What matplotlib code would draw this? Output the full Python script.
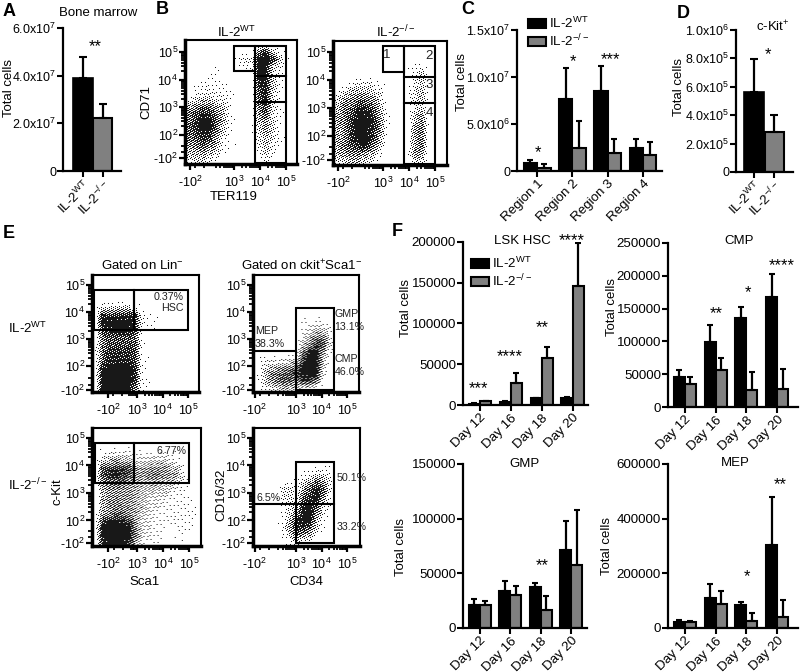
import numpy as np
import matplotlib
matplotlib.use('Agg')
import matplotlib.pyplot as plt
from matplotlib.patches import Patch, Rectangle

plt.rcParams['font.family'] = ['Liberation Sans', 'DejaVu Sans']
plt.rcParams['mathtext.fontset'] = 'custom'
plt.rcParams['mathtext.rm'] = 'Liberation Sans'
plt.rcParams['mathtext.default'] = 'rm'

W, H = 800, 672
WT = 'IL-2$^{WT}$'
KO = 'IL-2$^{-/-}$'
days = ['Day 12', 'Day 16', 'Day 18', 'Day 20']
regions = ['Region 1', 'Region 2', 'Region 3', 'Region 4']
genotypes = [WT, KO]

# panel A, D
marrow_mean = [3.9e7, 2.22e7]
marrow_err = [4.78e7, 2.8e7]
ckit_mean = [5.66e5, 2.82e5]
ckit_err = [7.93e5, 4.0e5]

# panel C
region_wt = [0.8e6, 7.66e6, 8.5e6, 2.4e6]
region_wt_err = [1.2e6, 1.1e7, 1.12e7, 3.4e6]
region_ko = [0.35e6, 2.5e6, 1.9e6, 1.7e6]
region_ko_err = [0.75e6, 5.3e6, 3.4e6, 3.1e6]

# panel F
lsk_wt = [1500, 3500, 8000, 8500]
lsk_wt_err = [2000, 5000, 9000, 9500]
lsk_ko = [4500, 27300, 58000, 146600]
lsk_ko_err = [5000, 39000, 71700, 199000]
cmp_wt = [45000, 99000, 135000, 168000]
cmp_wt_err = [56000, 125000, 153000, 203000]
cmp_ko = [35000, 56000, 26000, 27000]
cmp_ko_err = [46000, 75000, 53000, 58000]
gmp_wt = [21000, 34000, 37300, 71500]
gmp_wt_err = [26500, 42800, 41500, 97800]
gmp_ko = [21000, 30000, 16500, 57700]
gmp_ko_err = [24500, 38800, 29600, 107500]
mep_wt = [22000, 110000, 83000, 303000]
mep_wt_err = [28000, 160000, 94000, 480000]
mep_ko = [21000, 87000, 27000, 40000]
mep_ko_err = [25000, 137000, 56000, 101000]

# flow plots: rough density, top row first, 0-9
dens_b_wt = ['0000000000000000', '0000000000593100', '0000000132999410', '0000100011993210',
             '0001100000993100', '0011110000894100', '0112111000793100', '1233221000793100',
             '4566431000683100', '6788641000572100', '6899741000453100', '6899631000353100',
             '6788521000243100', '5676411000242100', '4454310000132000', '2332100000021000']
dens_b_ko = ['0000000000000000', '0000000000000000', '0000000000000000', '0000000000012000',
             '0000000000024000', '0012221000023000', '0244432000034000', '2556653000034000',
             '3668874100023000', '4679985100035000', '4689996100046000', '4589986100056000',
             '4589985000056000', '4678974000056000', '4566542000055000', '3344320000033000']
dens_lin_wt = ['0000000000000000', '0000000000000000', '0000000000000000', '0000000000000000',
               '0333331000000000', '0888888110000000', '0999998211000000', '0889998110000000',
               '0677776000000000', '0677777100000000', '0688887000000000', '0688887100000000',
               '0899998100000000', '0999998100000000', '0999998110100000', '0999996100000000']
dens_lin_ko = ['0000000000000000', '0000000000000000', '0000000000000000', '0122221111110000',
               '0345442233321000', '0788875455543100', '0789875566554100', '0566654444332100',
               '0455554333321100', '0455554322211110', '0456554322111110', '0456654321111110',
               '0799874221111110', '0999995221101110', '0999995211101100', '0899984111000000']
dens_ck_wt = ['0000000000000000', '0000000000000000', '0000000000000000', '0000000000000000',
              '0000000000000000', '0000000000000000', '0000000111100000', '0000000123310000',
              '0000000246620000', '0000000358730000', '0000001699510000', '0111122899400000',
              '0234456999300000', '0356778999200000', '0356776886100000', '0123442221000000']
dens_ck_ko = ['0000000000000000', '0000000000000000', '0000000000000000', '0000000000000000',
              '0000000000000000', '0000000001110000', '0000000123320000', '0000111357620000',
              '0000331579720000', '0000231789510000', '0000123898310000', '0000135996200000',
              '0000148994100000', '0000158873100000', '0000137541000000', '0000012110000000']

fig = plt.figure(figsize=(W / 100, H / 100), dpi=100)


def px_axes(left, top, right, bottom):
    return fig.add_axes([left / W, 1 - bottom / H, (right - left) / W, (bottom - top) / H])


def label(x, y, s, size=9.5, **kw):
    kw.setdefault('ha', 'center')
    kw.setdefault('va', 'center')
    fig.text(x / W, 1 - y / H, s, fontsize=size, **kw)


def stars(x, y, s):
    # asterisks sit high in the glyph box, so place by baseline
    fig.text(x / W, 1 - (y + 9.5) / H, s, fontsize=12, ha='center', va='baseline')


def clean(ax, ticks, ticklabels, size=9.6):
    for s in ['top', 'right']:
        ax.spines[s].set_visible(False)
    for s in ['left', 'bottom']:
        ax.spines[s].set_linewidth(1.6)
    ax.set_yticks(ticks)
    ax.set_yticklabels(ticklabels, fontsize=size)
    ax.tick_params(width=1.5, length=4, pad=1)
    ax.set_ylim(0, ticks[-1])


def two_bars(box, xlim, means, errs, ticks, ticklabels):
    ax = px_axes(*box)
    x = np.arange(2)
    ax.bar(x[0], means[0], 1.0, color='black', edgecolor='black', linewidth=1.2)
    ax.bar(x[1], means[1], 0.95, color='#808080', edgecolor='black', linewidth=1.5)
    ax.errorbar(x, means, yerr=[np.zeros(2), np.array(errs) - np.array(means)], fmt='none',
                ecolor='black', elinewidth=1.6, capsize=3, capthick=1.5)
    ax.set_xlim(*xlim)
    ax.set_xticks(x)
    clean(ax, ticks, ticklabels, 9)
    ax.set_xticklabels(genotypes, rotation=45, ha='right', rotation_mode='anchor', fontsize=9.6)
    return ax


def group_bars(box, xlim, names, wt, wt_err, ko, ko_err, ticks, ticklabels, width=0.36, size=9.6):
    ax = px_axes(*box)
    x = np.arange(len(names))
    wt, wt_err, ko, ko_err = map(np.array, (wt, wt_err, ko, ko_err))
    ax.bar(x - width / 2, wt, width, color='black', edgecolor='black', linewidth=1.5)
    ax.bar(x + width / 2, ko, width, color='#808080', edgecolor='black', linewidth=1.5)
    ax.errorbar(x - width / 2, wt, yerr=[0 * wt, wt_err - wt], fmt='none', ecolor='black',
                elinewidth=1.6, capsize=2.2, capthick=1.5)
    ax.errorbar(x + width / 2, ko, yerr=[0 * ko, ko_err - ko], fmt='none', ecolor='black',
                elinewidth=1.6, capsize=2.2, capthick=1.5)
    ax.set_xlim(*xlim)
    ax.set_xticks(x)
    clean(ax, ticks, ticklabels, size)
    ax.set_xticklabels(names, rotation=45, ha='right', rotation_mode='anchor', fontsize=9.6)
    return ax


def dotted(dens, nx, ny):
    # dither the density grid so it reads as dots, not blur
    d = np.array([[int(c) for c in row] for row in dens], float) / 9
    xs = (np.arange(nx) + 0.5) / nx * d.shape[1] - 0.5
    ys = (np.arange(ny) + 0.5) / ny * d.shape[0] - 0.5
    rows = np.array([np.interp(xs, np.arange(d.shape[1]), r) for r in d])
    up = np.array([np.interp(ys, np.arange(d.shape[0]), c) for c in rows.T]).T
    px, py = np.meshgrid(np.arange(nx), np.arange(ny))
    tile = (px * 0.7548777 + py * 0.5698403) % 1
    return (up ** 1.4 > tile).astype(float) * 0.9


def flow(box, xlim, ylim, dens, x_neg, y_neg, hlines=(), rects=(), notes=()):
    ax = px_axes(*box)
    ax.imshow(dotted(dens, box[2] - box[0], box[3] - box[1]), extent=(xlim[0], xlim[1], ylim[0], ylim[1]),
              cmap='gray_r', vmin=0, vmax=1, interpolation='bilinear', aspect='auto')
    ax.set_xlim(*xlim)
    ax.set_ylim(*ylim)
    for s in ax.spines.values():
        s.set_linewidth(1.5)
    ax.spines['left'].set_linewidth(2.5)
    ax.spines['bottom'].set_linewidth(2.5)
    ax.set_xticks([x_neg, 3, 4, 5])
    ax.set_xticklabels(['-10$^{2}$', '10$^{3}$', '10$^{4}$', '10$^{5}$'], fontsize=9)
    ax.set_yticks([y_neg, 2, 3, 4, 5])
    ax.set_yticklabels(['-10$^{2}$', '10$^{2}$', '10$^{3}$', '10$^{4}$', '10$^{5}$'], fontsize=9)
    steps = np.log10(np.arange(2, 10))
    xm = [x_neg + 0.2, x_neg + 0.55] + [k + s for k in (2, 3, 4) for s in steps if k + s > x_neg + 0.8]
    ym = [y_neg + 0.2, y_neg + 0.45] + [k + s for k in (2, 3, 4) for s in steps]
    ax.set_xticks(xm, minor=True)
    ax.set_yticks(ym, minor=True)
    ax.tick_params(axis='y', which='major', width=1.6, length=4, pad=1)
    ax.tick_params(axis='x', which='major', width=1.6, length=4, pad=4)
    ax.tick_params(which='minor', width=1.3, length=3)
    for x0, x1, y0, y1 in rects:
        ax.add_patch(Rectangle((x0, y0), x1 - x0, y1 - y0, fill=False, edgecolor='black', linewidth=1.5))
    for x0, x1, y0 in hlines:
        ax.plot([x0, x1], [y0, y0], color='black', linewidth=1.5)
    for x0, y0, s, ha, size in notes:
        ax.text(x0, y0, s, ha=ha, va='center', fontsize=size, color='#222222')
    return ax


# top row bars
two_bars((63, 28, 121, 171), (-1.03, 1.95), marrow_mean, marrow_err, [0, 2e7, 4e7, 6e7],
         ['0', '2.0x10$^{7}$', '4.0x10$^{7}$', '6.0x10$^{7}$'])
ax_c = group_bars((517, 30, 662, 171), (-0.57, 3.54), regions, region_wt, region_wt_err, region_ko,
                  region_ko_err, [0, 5e6, 1e7, 1.5e7], ['0', '5.0x10$^{6}$', '1.0x10$^{7}$', '1.5x10$^{7}$'],
                  0.38, 9)
two_bars((736, 30, 793, 172), (-0.9, 1.95), ckit_mean, ckit_err, [0, 2e5, 4e5, 6e5, 8e5, 1e6],
         ['0', '2.0x10$^{5}$', '4.0x10$^{5}$', '6.0x10$^{5}$', '8.0x10$^{5}$', '1.0x10$^{6}$'])

# flow plots
flow((185, 40, 297, 164), (1.115, 5.42), (0.93, 5.44), dens_b_wt, 1.3, 1.15,
     hlines=[(3.81, 5, 4.13), (3.81, 5, 3.18)],
     rects=[(3, 3.81, 4.31, 5.22), (3.81, 5, 0.96, 5.22)])
flow((333, 41, 447, 165), (1.08, 5.46), (0.96, 5.39), dens_b_ko, 1.27, 1.15,
     hlines=[(3.81, 5, 4.11), (3.81, 5, 3.18)],
     rects=[(3, 3.81, 4.29, 5.21), (3.81, 5, 0.98, 5.2)],
     notes=[(3.15, 4.89, '1', 'center', 9.5), (4.77, 4.86, '2', 'center', 9.5),
            (4.77, 3.82, '3', 'center', 9.5), (4.77, 2.82, '4', 'center', 9.5)])
flow((92, 275, 199, 392), (1.25, 5.41), (1.04, 5.37), dens_lin_wt, 1.87, 1.11,
     rects=[(1.33, 2.87, 3.33, 4.81), (2.87, 4.98, 3.33, 4.81)],
     notes=[(4.83, 4.56, '0.37%', 'right', 7.7), (4.83, 4.15, 'HSC', 'right', 7.7)])
flow((92, 428, 201, 546), (1.27, 5.46), (1.07, 5.36), dens_lin_ko, 1.9, 1.18,
     rects=[(1.38, 2.88, 3.36, 4.82), (2.88, 5.0, 3.36, 4.82)],
     notes=[(4.92, 4.53, '6.77%', 'right', 7.7)])
flow((253, 275, 359, 392), (1.31, 5.47), (1.04, 5.37), dens_ck_wt, 1.38, 1.11,
     hlines=[(1.31, 3, 2.56)],
     rects=[(3, 4.49, 1.11, 4.15)],
     notes=[(1.38, 3.3, 'MEP', 'left', 7.7), (1.38, 2.81, '38.3%', 'left', 7.7),
            (4.49, 3.93, 'GMP', 'left', 7.7), (4.49, 3.44, '13.1%', 'left', 7.7),
            (4.52, 2.26, 'CMP', 'left', 7.7), (4.52, 1.78, '46.0%', 'left', 7.7)])
flow((253, 428, 360, 546), (1.31, 5.5), (1.07, 5.36), dens_ck_ko, 1.38, 1.18,
     hlines=[(1.31, 3, 2.6), (3, 4.49, 2.6)],
     rects=[(3, 4.49, 1.18, 4.13)],
     notes=[(1.43, 2.82, '6.5%', 'left', 7.7), (4.57, 3.55, '50.1%', 'left', 7.7),
            (4.57, 1.76, '33.2%', 'left', 7.7)])

# panel F
ax_lsk = group_bars((463, 242, 588, 405), (-0.55, 3.5), days, lsk_wt, lsk_wt_err, lsk_ko, lsk_ko_err,
                    [0, 50000, 100000, 150000, 200000], ['0', '50000', '100000', '150000', '200000'])
group_bars((668, 243, 798, 407), (-0.55, 3.68), days, cmp_wt, cmp_wt_err, cmp_ko, cmp_ko_err,
           [0, 50000, 100000, 150000, 200000, 250000],
           ['0', '50000', '100000', '150000', '200000', '250000'])
group_bars((463, 464, 587, 628), (-0.55, 3.52), days, gmp_wt, gmp_wt_err, gmp_ko, gmp_ko_err,
           [0, 50000, 100000, 150000], ['0', '50000', '100000', '150000'])
group_bars((668, 464, 798, 628), (-0.55, 3.68), days, mep_wt, mep_wt_err, mep_ko, mep_ko_err,
           [0, 200000, 400000, 600000], ['0', '200000', '400000', '600000'])

handles = [Patch(facecolor='black', edgecolor='black', linewidth=1.5, label=WT),
           Patch(facecolor='#808080', edgecolor='black', linewidth=1.5, label=KO)]
for ax, x0, y0 in [(ax_c, 528, 16), (ax_lsk, 471, 256)]:
    ax.legend(handles=handles, loc='upper left', bbox_to_anchor=(x0 / W, 1 - y0 / H),
              bbox_transform=fig.transFigure, frameon=False, fontsize=9.6, handlelength=1.35,
              handleheight=0.75, handletextpad=0.25, labelspacing=0.1, borderpad=0, borderaxespad=0)

# panel letters
for x, y, s in [(9, 11, 'A'), (162, 10, 'B'), (468, 10, 'C'), (683, 13, 'D'), (9, 233, 'E'), (397, 232, 'F')]:
    label(x, y, s, size=13, fontweight='bold')

# titles
for x, y, s in [(98, 13, 'Bone marrow'), (237, 32, WT), (396, 32, KO), (773, 27, 'c-Kit$^{+}$'),
                (142, 266, 'Gated on Lin$^{-}$'), (302, 266, 'Gated on ckit$^{+}$Sca1$^{-}$'),
                (28, 328, WT), (28, 485, KO), (522, 241, 'LSK HSC'), (739, 241, 'CMP'),
                (524, 464, 'GMP'), (735, 463, 'MEP')]:
    label(x, y, s)

# axis labels
for x, y in [(9, 88), (462, 82), (679, 87), (406, 308), (612, 307), (401, 547), (607, 546)]:
    label(x, y, 'Total cells', rotation=90)
for x, y, s in [(146, 102, 'CD71'), (58, 492, 'c-Kit'), (221, 495, 'CD16/32')]:
    label(x, y, s, rotation=90)
for x, y, s in [(234, 197, 'TER119'), (145, 582, 'Sca1'), (306, 582, 'CD34')]:
    label(x, y, s)

# significance
for x, y, s in [(95, 42, '**'), (538, 148, '*'), (573, 57, '*'), (610, 55, '***'), (768, 50, '*'),
                (478, 384, '***'), (510, 352, '****'), (542, 323, '**'), (572, 236, '****'),
                (716, 309, '**'), (748, 288, '*'), (782, 261, '****'),
                (542, 561, '**'), (747, 572, '*'), (780, 480, '**')]:
    stars(x, y, s)

fig.savefig('out.png', dpi=100)
